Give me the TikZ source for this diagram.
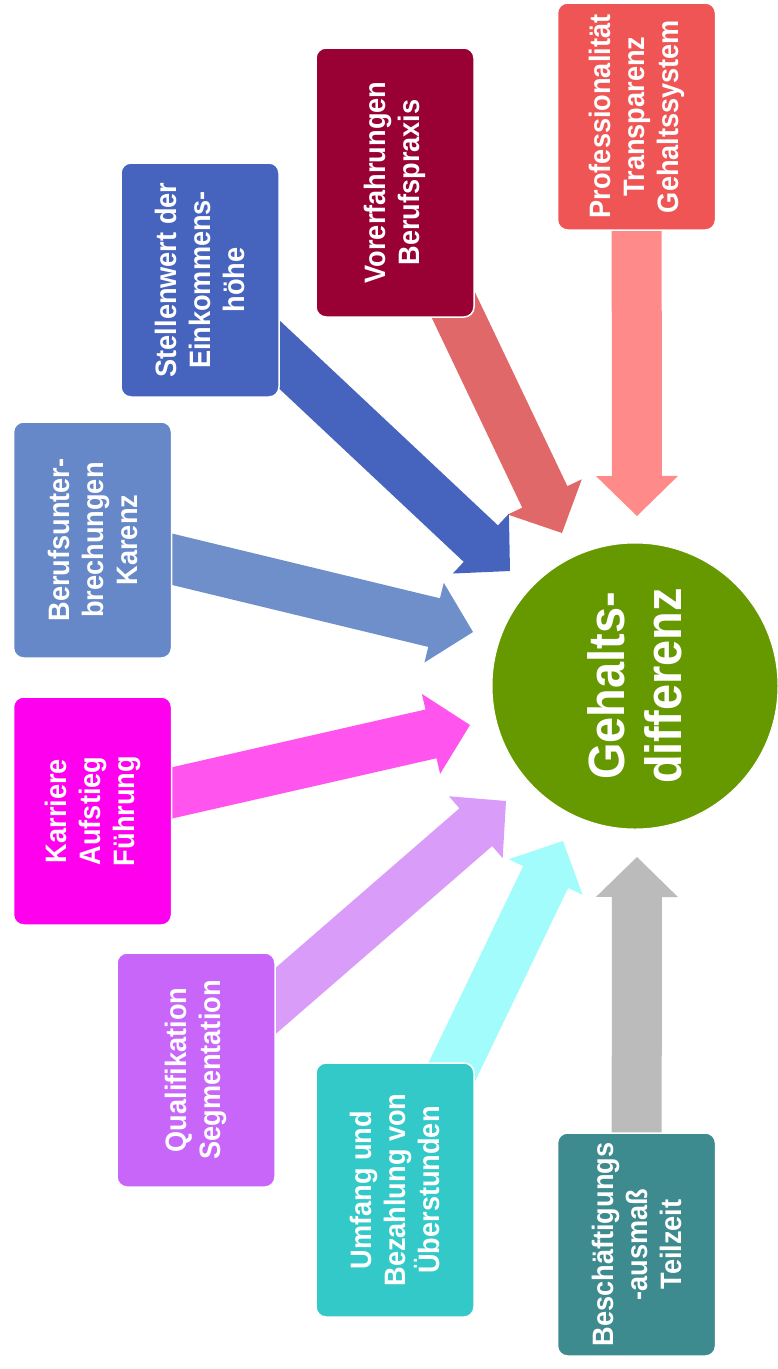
\documentclass[tikz,border=0pt]{standalone}
\usepackage{fontspec}
\setmainfont{Liberation Sans}
\newfontfamily\narrowfont[FakeStretch=0.92]{Liberation Sans}
\usetikzlibrary{calc}
\pgfdeclarelayer{bg}
\pgfdeclarelayer{arr}
\pgfsetlayers{bg,arr,main}
\definecolor{cA}{HTML}{F05555}
\definecolor{cB}{HTML}{990033}
\definecolor{cC}{HTML}{4664BE}
\definecolor{cD}{HTML}{6688C8}
\definecolor{cE}{HTML}{FF00EE}
\definecolor{cF}{HTML}{C866FA}
\definecolor{cG}{HTML}{33C9C9}
\definecolor{cH}{HTML}{3D8A8F}
\definecolor{cGreen}{HTML}{669900}
\definecolor{aA}{HTML}{FF8A8A}
\definecolor{aB}{HTML}{E06868}
\definecolor{aC}{HTML}{4664BE}
\definecolor{aD}{HTML}{6F8FCA}
\definecolor{aE}{HTML}{FF55EE}
\definecolor{aF}{HTML}{D99CF8}
\definecolor{aG}{HTML}{A3FCFC}
\definecolor{aH}{HTML}{BBBBBB}
\newcommand{\bigarrow}[3]{%
  \path ($(#2)!40pt!(#1)$) coordinate (hb);
  \fill[#3] ($(#1)!25pt!90:(#2)$) -- ($(hb)!25pt!90:(#2)$) -- ($(hb)!41pt!90:(#2)$) -- (#2)
    -- ($(hb)!41pt!-90:(#2)$) -- ($(hb)!25pt!-90:(#2)$) -- ($(#1)!25pt!-90:(#2)$) -- cycle;}
\tikzset{
  box/.style={rectangle, rounded corners=10pt, draw=white, line width=1.5pt, rotate=90,
    minimum height=158pt, inner sep=0pt, align=center, text=white,
    font=\narrowfont\fontsize{29.5}{34}\selectfont\bfseries},
  hub/.style={circle, fill=cGreen, draw=white, line width=1pt, minimum size=286pt, inner sep=0pt,
    rotate=90, align=center, text=white, font=\narrowfont\fontsize{51}{57}\selectfont\bfseries}
}
\begin{document}
\begin{tikzpicture}[x=1pt,y=-1pt]
\begin{pgfonlayer}{bg}
\fill[white] (0,0) rectangle (777,1369);
\end{pgfonlayer}
\useasboundingbox (0,0) rectangle (777,1369);
% boxes
\node[box, fill=cA, minimum width=227pt] (b1) at (636.5,116.5) {Professionalität\\Transparenz\\Gehaltssystem};
\node[box, fill=cB, minimum width=269pt] (b2) at (395,182.5) {Vorerfahrungen\\Berufspraxis};
\node[box, fill=cC, minimum width=234pt] (b3) at (200,280) {Stellenwert der\\Einkommens-\\höhe};
\node[box, fill=cD, minimum width=236pt] (b4) at (92.5,540) {Berufsunter-\\brechungen\\Karenz};
\node[box, fill=cE, minimum width=228pt] (b5) at (92.5,811) {Karriere\\Aufstieg\\Führung};
\node[box, fill=cF, minimum width=234pt] (b6) at (196,1070) {Qualifikation\\Segmentation};
\node[box, fill=cG, minimum width=254pt] (b7) at (395,1190) {Umfang und\\Bezahlung von\\Überstunden};
\node[box, fill=cH, minimum width=223pt] (b8) at (636.5,1244.5) {Beschäftigungs\\-ausmaß\\Teilzeit};
% hub
\node[hub] (c) at (635,686) {Gehalts-\\differenz};
% arrow tips
\coordinate (t1) at (637,516);
\coordinate (t2) at (562,533);
\coordinate (t3) at (510,571);
\coordinate (t4) at (473,632);
\coordinate (t5) at (470,725);
\coordinate (t6) at (506,801);
\coordinate (t7) at (563,841);
\coordinate (t8) at (637,857);
\begin{pgfonlayer}{arr}
\bigarrow{b1.center}{t1}{aA}
\bigarrow{b2.center}{t2}{aB}
\bigarrow{b3.center}{t3}{aC}
\bigarrow{b4.center}{t4}{aD}
\bigarrow{b5.center}{t5}{aE}
\bigarrow{b6.center}{t6}{aF}
\bigarrow{b7.center}{t7}{aG}
\bigarrow{b8.center}{t8}{aH}
\end{pgfonlayer}
\end{tikzpicture}
\end{document}
